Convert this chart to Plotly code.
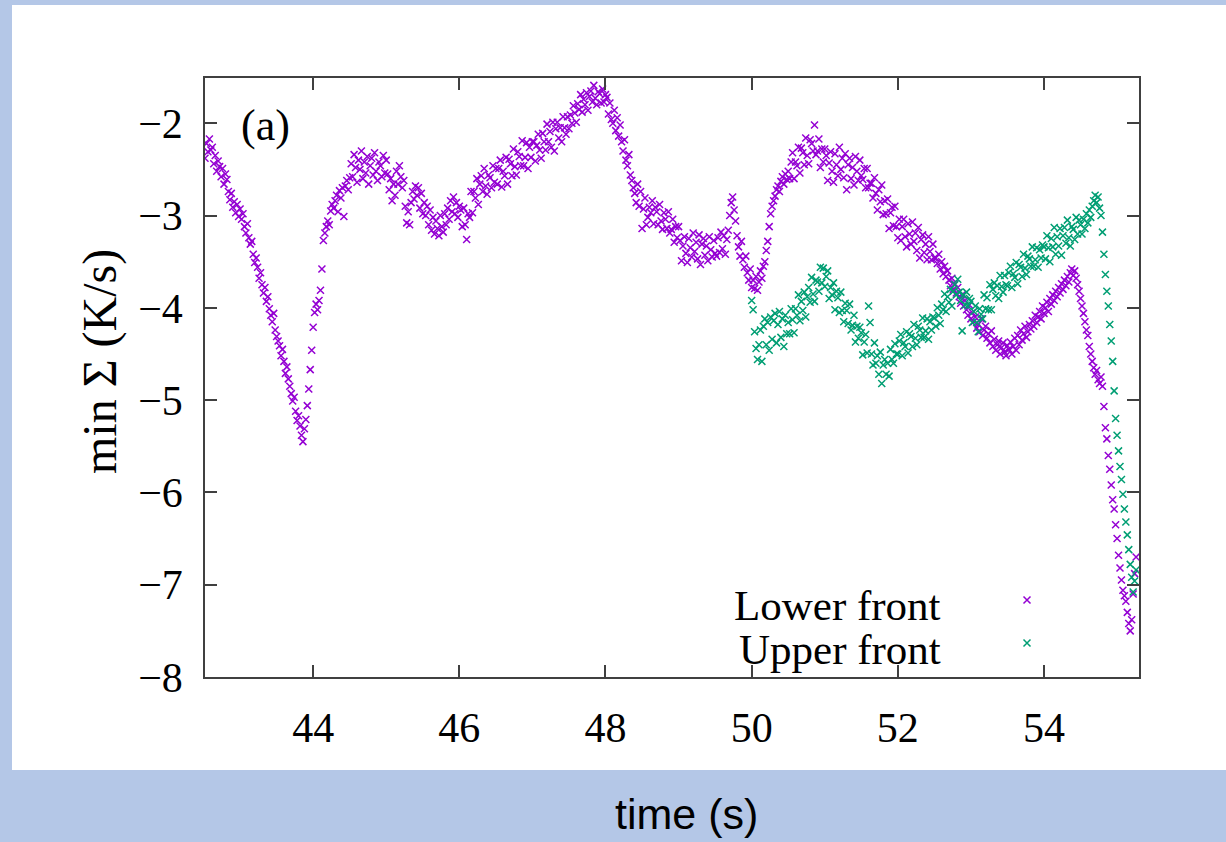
import numpy as np
import plotly.graph_objects as go

# Sampling of the two front diagnostics (time in s)
LOWER_START = 42.52
UPPER_START = 50.00
DT = 0.02

# min Sigma (K/s) of the lower front, one row per half second
lower_front = [
    -2.38, -2.22, -2.31, -2.17, -2.29, -2.26, -2.44, -2.35, -2.52, -2.41, -2.47, -2.58, -2.49, -2.66, -2.55, -2.61, -2.74, -2.83, -2.76, -2.91, -2.85, -2.97, -2.88, -3.01, -2.93,
    -3.04, -2.98, -3.12, -3.19, -3.09, -3.24, -3.31, -3.28, -3.42, -3.51, -3.46, -3.56, -3.68, -3.62, -3.75, -3.84, -3.78, -3.93, -3.88, -4.01, -4.08, -4.15, -4.06, -4.24, -4.31,
    -4.36, -4.41, -4.52, -4.45, -4.58, -4.71, -4.64, -4.77, -4.85, -4.93, -5.01, -4.97, -5.12, -5.22, -5.17, -5.28, -5.38, -5.45, -5.31, -5.21, -5.06, -4.88, -4.67, -4.46, -4.21,
    -4.05, -3.96, -4.02, -3.92, -3.81, -3.58, -3.27, -3.19, -3.12, -3.06, -3.10, -2.95, -2.88, -2.92, -2.84, -2.78, -2.96, -2.73, -2.81, -2.70, -3.01, -2.68, -2.62, -2.72, -2.59,
    -2.44, -2.58, -2.34, -2.48, -2.64, -2.40, -2.50, -2.30, -2.60, -2.42, -2.54, -2.36, -2.66, -2.46, -2.38, -2.56, -2.32, -2.52, -2.62, -2.42, -2.46, -2.58, -2.35, -2.54, -2.40,
    -2.55, -2.72, -2.60, -2.84, -2.66, -2.78, -2.52, -2.66, -2.46, -2.58, -2.70, -2.62, -2.90, -3.08, -2.96, -3.10, -2.86, -2.74, -2.82, -2.68, -2.78, -2.70, -2.92, -2.76, -2.98,
    -2.86, -3.00, -2.90, -3.10, -2.94, -3.16, -3.02, -3.20, -3.06, -3.14, -3.22, -3.00, -3.12, -3.18, -2.98, -3.10, -2.92, -3.04, -2.84, -2.96, -2.80, -2.98, -2.86, -3.02, -2.90,
    -2.94, -3.12, -2.92, -3.10, -3.26, -2.98, -3.02, -2.74, -2.97, -2.74, -2.81, -2.60, -2.88, -2.66, -2.57, -2.74, -2.49, -2.68, -2.77, -2.56, -2.59, -2.70, -2.46, -2.64, -2.49,
    -2.66, -2.49, -2.40, -2.69, -2.52, -2.57, -2.37, -2.66, -2.39, -2.44, -2.57, -2.28, -2.47, -2.56, -2.31, -2.36, -2.46, -2.19, -2.46, -2.37, -2.21, -2.49, -2.26, -2.37, -2.20,
    -2.20, -2.41, -2.24, -2.12, -2.29, -2.38, -2.11, -2.20, -2.29, -2.01, -2.20, -2.09, -2.26, -1.99, -2.30, -2.06, -1.99, -2.16, -2.05, -2.20, -1.93, -2.05, -2.12, -1.93, -2.06,
    -1.91, -2.00, -1.81, -1.89, -1.99, -1.79, -1.85, -1.69, -1.88, -1.74, -1.80, -1.67, -1.86, -1.71, -1.65, -1.77, -1.59, -1.73, -1.80, -1.66, -1.68, -1.78, -1.63, -1.77, -1.69,
    -1.72, -1.90, -1.78, -1.96, -2.00, -1.86, -2.08, -1.94, -2.14, -2.02, -2.20, -2.30, -2.18, -2.40, -2.46, -2.34, -2.56, -2.62, -2.70, -2.76, -2.86, -2.66, -2.90, -2.74, -3.14,
    -2.93, -2.81, -3.10, -3.02, -2.91, -2.97, -2.84, -3.09, -2.91, -2.96, -3.10, -2.88, -3.06, -3.15, -2.97, -3.04, -3.14, -2.96, -3.19, -3.15, -3.04, -3.29, -3.12, -3.24, -3.12,
    -3.27, -3.49, -3.33, -3.23, -3.41, -3.51, -3.25, -3.35, -3.45, -3.19, -3.39, -3.29, -3.47, -3.21, -3.53, -3.31, -3.25, -3.43, -3.33, -3.49, -3.23, -3.37, -3.45, -3.27, -3.41,
    -3.44, -3.24, -3.40, -3.18, -3.36, -3.22, -3.42, -3.26, -3.16, -3.00, -2.86, -2.80, -2.94, -3.06, -3.22, -3.34, -3.44, -3.28, -3.48, -3.56, -3.44, -3.62, -3.70, -3.58, -3.78,
    -3.70, -3.79, -3.66, -3.81, -3.72, -3.60, -3.68, -3.55, -3.50, -3.38, -3.28, -3.12, -2.98, -2.90, -2.84, -2.79, -2.72, -2.68, -2.74, -2.63, -2.58, -2.66, -2.55, -2.61, -2.52,
    -2.60, -2.42, -2.32, -2.60, -2.42, -2.46, -2.26, -2.54, -2.27, -2.32, -2.45, -2.16, -2.35, -2.44, -2.18, -2.22, -2.30, -2.02, -2.34, -2.30, -2.17, -2.48, -2.28, -2.42, -2.28,
    -2.35, -2.62, -2.43, -2.31, -2.52, -2.64, -2.33, -2.45, -2.57, -2.26, -2.50, -2.38, -2.59, -2.33, -2.72, -2.45, -2.38, -2.60, -2.48, -2.67, -2.36, -2.52, -2.62, -2.40, -2.57,
    -2.61, -2.49, -2.70, -2.49, -2.70, -2.65, -2.65, -2.81, -2.59, -2.76, -2.94, -2.72, -2.85, -2.67, -2.99, -2.84, -2.98, -2.82, -3.14, -2.97, -2.91, -3.11, -2.90, -3.12, -3.24,
    -3.04, -3.27, -3.12, -3.04, -3.23, -3.34, -3.09, -3.20, -3.31, -3.07, -3.28, -3.19, -3.38, -3.13, -3.46, -3.26, -3.21, -3.40, -3.31, -3.48, -3.23, -3.39, -3.48, -3.31, -3.46,
    -3.46, -3.52, -3.42, -3.58, -3.50, -3.63, -3.55, -3.66, -3.60, -3.70, -3.76, -3.68, -3.80, -3.74, -3.84, -3.78, -3.88, -3.95, -3.86, -3.98, -3.92, -4.02, -4.08, -3.97, -4.12,
    -4.05, -4.15, -4.10, -4.22, -4.18, -4.26, -4.12, -4.30, -4.24, -4.20, -4.33, -4.28, -4.38, -4.25, -4.42, -4.34, -4.46, -4.40, -4.36, -4.50, -4.43, -4.38, -4.48, -4.52, -4.41,
    -4.45, -4.37, -4.50, -4.42, -4.33, -4.46, -4.30, -4.40, -4.24, -4.35, -4.28, -4.20, -4.32, -4.26, -4.18, -4.23, -4.14, -4.20, -4.08, -4.16, -4.10, -4.04, -4.12, -3.98, -4.06,
    -4.00, -3.94, -4.04, -3.90, -3.96, -3.86, -3.92, -3.82, -3.88, -3.78, -3.84, -3.74, -3.80, -3.70, -3.76, -3.66, -3.72, -3.62, -3.58, -3.65, -3.60, -3.68, -3.75, -3.82, -3.90,
    -3.98, -4.06, -4.15, -4.24, -4.30, -4.42, -4.50, -4.58, -4.65, -4.72, -4.68, -4.78, -4.82, -4.75, -4.85, -5.07, -5.30, -5.42, -5.60, -5.75, -5.92, -6.08, -6.18, -6.35, -6.50,
    -6.68, -6.82, -6.95, -7.06, -7.12, -7.18, -7.30, -7.42, -7.50, -7.38, -7.10, -6.88, -6.70,
]

# min Sigma (K/s) of the upper front
upper_front = [
    -3.92, -4.02, -4.26, -4.44, -4.56, -4.40, -4.24, -4.58, -4.20, -4.12, -4.40, -4.16, -4.46, -4.10, -4.34, -4.14, -4.06, -4.38, -4.18, -4.04, -4.32, -4.12, -4.42, -4.08, -4.28,
    -4.16, -4.28, -4.01, -4.13, -4.27, -4.01, -4.08, -3.86, -4.14, -3.93, -4.03, -3.83, -4.10, -3.88, -3.78, -3.94, -3.67, -3.85, -3.93, -3.70, -3.72, -3.82, -3.56, -3.73, -3.57,
    -3.77, -3.66, -3.60, -3.90, -3.78, -3.86, -3.73, -4.02, -3.82, -3.89, -4.05, -3.83, -4.03, -4.15, -3.95, -4.03, -4.17, -3.96, -4.24, -4.19, -4.08, -4.37, -4.20, -4.33, -4.21,
    -4.27, -4.51, -4.37, -4.29, -4.49, -3.98, -4.16, -4.50, -4.62, -4.38, -4.60, -4.52, -4.72, -4.48, -4.82, -4.62, -4.56, -4.72, -4.60, -4.74, -4.45, -4.56, -4.60, -4.39, -4.50,
    -4.50, -4.36, -4.29, -4.52, -4.38, -4.42, -4.26, -4.49, -4.28, -4.31, -4.42, -4.18, -4.33, -4.40, -4.20, -4.24, -4.32, -4.11, -4.32, -4.25, -4.12, -4.34, -4.15, -4.24, -4.10,
    -4.11, -4.20, -4.00, -4.08, -4.17, -3.96, -4.02, -3.85, -4.04, -3.88, -3.94, -3.80, -3.98, -3.82, -3.75, -3.86, -3.69, -3.83, -3.92, -4.25, -3.86, -3.97, -3.83, -3.98, -3.90,
    -3.93, -4.16, -4.04, -3.98, -4.16, -4.26, -4.01, -4.07, -4.12, -3.86, -4.01, -3.89, -4.02, -3.75, -4.02, -3.80, -3.73, -3.87, -3.76, -3.90, -3.65, -3.77, -3.83, -3.65, -3.75,
    -3.76, -3.62, -3.55, -3.78, -3.63, -3.67, -3.51, -3.74, -3.53, -3.56, -3.66, -3.42, -3.57, -3.64, -3.44, -3.47, -3.55, -3.34, -3.55, -3.48, -3.35, -3.56, -3.37, -3.46, -3.32,
    -3.34, -3.47, -3.22, -3.35, -3.50, -3.25, -3.34, -3.13, -3.42, -3.23, -3.33, -3.14, -3.43, -3.22, -3.13, -3.30, -3.05, -3.24, -3.33, -3.12, -3.15, -3.26, -3.02, -3.20, -3.05,
    -3.10, -3.20, -3.04, -3.14, -2.98, -3.08, -2.94, -3.02, -2.90, -2.84, -2.78, -2.86, -2.80, -2.92, -3.00, -3.18, -3.42, -3.64, -3.82, -3.98, -4.18, -4.36, -4.58, -4.90, -5.20,
    -5.38, -5.55, -5.72, -5.86, -6.02, -6.18, -6.32, -6.46, -6.62, -6.78, -6.92, -7.08, -6.96, -6.84,
]

series_names = ["Lower front", "Upper front"]
x_ticks = [44, 46, 48, 50, 52, 54]
y_ticks = [-8, -7, -6, -5, -4, -3, -2]

t_lower = np.round(LOWER_START + DT * np.arange(len(lower_front)), 2)
t_upper = np.round(UPPER_START + DT * np.arange(len(upper_front)), 2)

PURPLE = "#9400d3"
GREEN = "#009e73"
AXIS = "#404040"
SERIF = "Liberation Serif"

W, H = 1226, 842
L, R, T, B = 205, 87, 78, 165
PW, PH = W - L - R, H - T - B


def px_x(x):
    return (x - L) / PW


def px_y(y):
    return (H - B - y) / PH


def cross(color):
    return dict(symbol="x-thin", size=7, color=color, line=dict(width=1.5, color=color))


fig = go.Figure()
fig.add_trace(go.Scatter(x=t_lower, y=lower_front, mode="markers",
                         marker=cross(PURPLE), name=series_names[0], showlegend=False))
fig.add_trace(go.Scatter(x=t_upper, y=upper_front, mode="markers",
                         marker=cross(GREEN), name=series_names[1], showlegend=False))

# key glyphs on an overlay axis spanning the plot box
key_x = px_x(1027)
for name, color, ky in [(series_names[0], PURPLE, px_y(600)), (series_names[1], GREEN, px_y(643))]:
    fig.add_trace(go.Scatter(x=[key_x], y=[ky], xaxis="x2", yaxis="y2", mode="markers",
                             marker=cross(color), showlegend=False, hoverinfo="skip"))

axis_common = dict(
    showgrid=False, zeroline=False, showline=True, linecolor=AXIS, linewidth=1.5,
    mirror="ticks", ticks="inside", ticklen=12, tickwidth=1.5, tickcolor=AXIS,
    tickfont=dict(family=SERIF, size=42, color="black"),
)


def label(text, x, y, size, family=SERIF, xanchor="center", angle=0):
    return dict(text=text, xref="paper", yref="paper", x=px_x(x), y=px_y(y),
                xanchor=xanchor, yanchor="middle", textangle=angle, showarrow=False,
                font=dict(family=family, size=size, color="black"))


fig.update_layout(
    width=W, height=H, autosize=False,
    margin=dict(l=L, r=R, t=T, b=B),
    paper_bgcolor="#b4c7e7",
    plot_bgcolor="white",
    xaxis=dict(range=[42.52, 55.3], tickvals=x_ticks, ticklabelstandoff=13, **axis_common),
    yaxis=dict(range=[-8, -1.51], tickvals=y_ticks, ticklabelstandoff=12, **axis_common),
    xaxis2=dict(overlaying="x", range=[0, 1], visible=False),
    yaxis2=dict(overlaying="y", range=[0, 1], visible=False),
    shapes=[dict(type="rect", xref="paper", yref="paper", layer="below",
                 x0=px_x(12), x1=px_x(W), y0=px_y(770), y1=px_y(5),
                 fillcolor="white", line=dict(width=0))],
    annotations=[
        label("(a)", 265, 125, 44),
        label(series_names[0], 943, 605, 43, xanchor="right"),
        label(series_names[1], 943, 649, 43, xanchor="right"),
        label("min Σ (K/s)", 100, 362, 48, angle=-90),
        label("time (s)", 686, 814, 43, family="Liberation Sans"),
    ],
)

fig.write_html("out.html")
